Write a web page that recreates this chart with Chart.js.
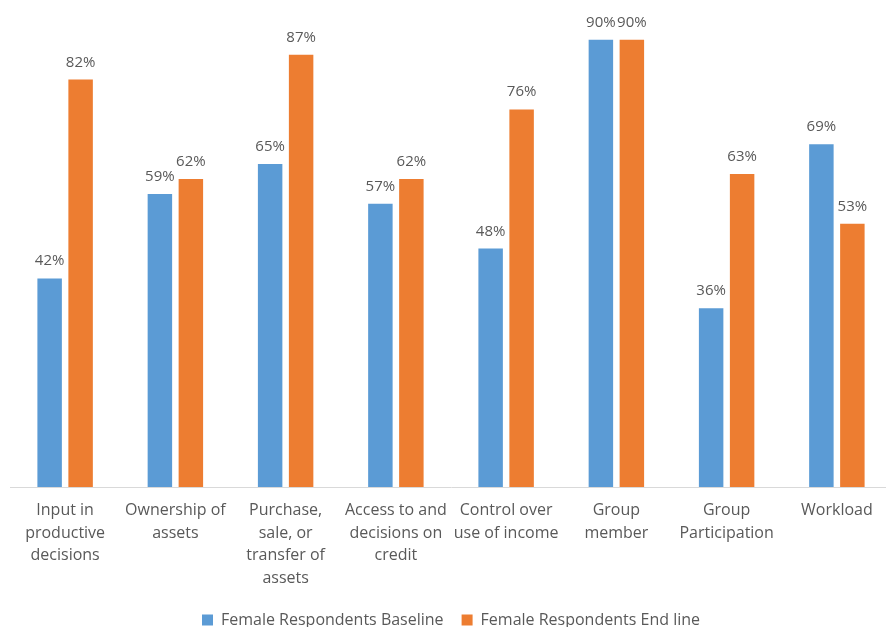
<!DOCTYPE html>
<html>
<head>
<meta charset="utf-8">
<script src="https://cdn.jsdelivr.net/npm/chart.js@4"></script>
<style>
  html, body { margin: 0; padding: 0; background: #fff; overflow: hidden; }
  #wrap { width: 892px; height: 638px; }
</style>
</head>
<body>
<div id="wrap"><canvas id="barChart"></canvas></div>
<script>
const categories = [
  ["Input in", "productive", "decisions"],
  ["Ownership of", "assets"],
  ["Purchase,", "sale, or", "transfer of", "assets"],
  ["Access to and", "decisions on", "credit"],
  ["Control over", "use of income"],
  ["Group", "member"],
  ["Group", "Participation"],
  ["Workload"]
];
const baseline = [42, 59, 65, 57, 48, 90, 36, 69];
const endline = [82, 62, 87, 62, 76, 90, 63, 53];

const textGray = "#595959";
const fontFamily = "'Open Sans', 'Noto Sans', sans-serif";

// draws the percent value above each bar
const valueLabels = {
  id: "valueLabels",
  afterDatasetsDraw(chart) {
    const ctx = chart.ctx;
    ctx.save();
    ctx.fillStyle = textGray;
    ctx.font = "15px " + fontFamily;
    ctx.textAlign = "center";
    ctx.textBaseline = "alphabetic";
    chart.data.datasets.forEach((ds, i) => {
      chart.getDatasetMeta(i).data.forEach((bar, j) => {
        ctx.fillText(ds.data[j] + "%", bar.x, bar.y - 13);
      });
    });
    ctx.restore();
  }
};

new Chart(document.getElementById("barChart"), {
  type: "bar",
  data: {
    labels: categories,
    datasets: [
      {
        label: "Female Respondents Baseline",
        data: baseline,
        backgroundColor: "#5B9BD5",
        barPercentage: 0.79,
        categoryPercentage: 0.562
      },
      {
        label: "Female Respondents End line",
        data: endline,
        backgroundColor: "#ED7D31",
        barPercentage: 0.79,
        categoryPercentage: 0.562
      }
    ]
  },
  options: {
    responsive: true,
    maintainAspectRatio: false,
    animation: false,
    layout: { padding: { top: 10, left: 10, right: 0, bottom: 0 } },
    scales: {
      x: {
        grid: { display: false },
        border: { color: "#D9D9D9", width: 1 },
        ticks: {
          color: textGray,
          font: { family: fontFamily, size: 16, lineHeight: 1.42 },
          maxRotation: 0,
          autoSkip: false,
          padding: 4
        }
      },
      y: {
        display: false,
        min: 0,
        max: 96
      }
    },
    plugins: {
      legend: {
        position: "bottom",
        labels: {
          color: textGray,
          font: { family: fontFamily, size: 16 },
          boxWidth: 11,
          boxHeight: 11,
          padding: 18
        }
      },
      tooltip: { enabled: false }
    }
  },
  plugins: [valueLabels]
});
</script>
</body>
</html>
